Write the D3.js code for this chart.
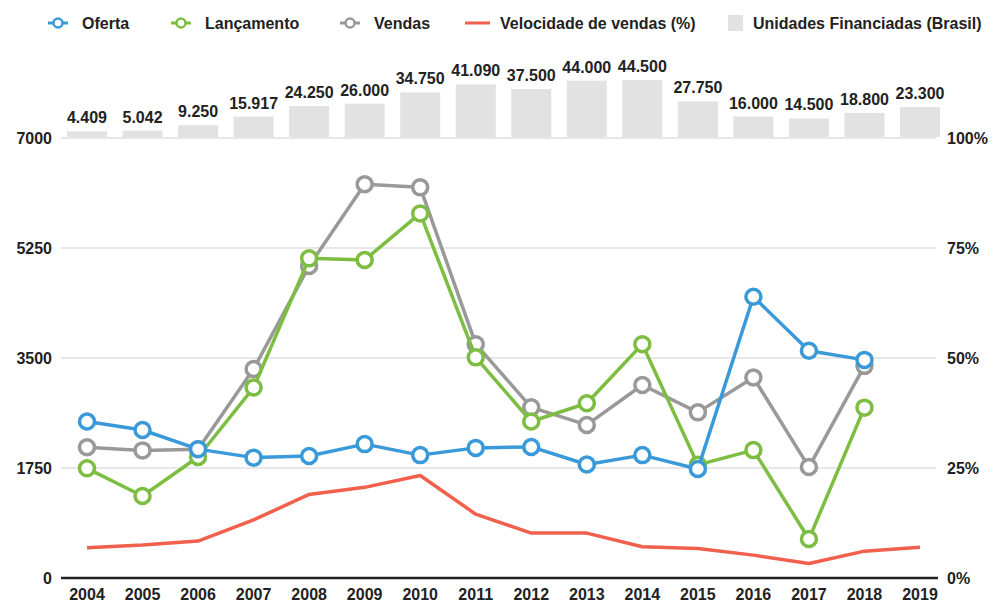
<!DOCTYPE html>
<html lang="pt">
<head>
    <meta charset="UTF-8">
    <title>Mercado imobiliário</title>
    <script src="https://d3js.org/d3.v7.min.js"></script>
    <style>
        body { margin: 0; background: #fff; }
        text { font-family: "Liberation Sans", Arial, sans-serif; font-weight: bold; fill: #222; }
    </style>
</head>
<body>
<script>
const years = ["2004","2005","2006","2007","2008","2009","2010","2011","2012","2013","2014","2015","2016","2017","2018","2019"];
const oferta = [2490, 2355, 2050, 1915, 1940, 2130, 1955, 2070, 2085, 1805, 1955, 1735, 4475, 3615, 3470, null];
const lancamento = [1745, 1305, 1925, 3030, 5085, 5060, 5800, 3510, 2490, 2780, 3720, 1800, 2035, 620, 2710, null];
const vendas = [2080, 2030, 2050, 3325, 4965, 6265, 6215, 3720, 2715, 2435, 3070, 2635, 3190, 1765, 3375, null];
const velocidade = [6.9, 7.5, 8.4, 13.2, 19.0, 20.6, 23.3, 14.5, 10.2, 10.2, 7.1, 6.7, 5.2, 3.3, 6.1, 7.0];
const unidades = [4409, 5042, 9250, 15917, 24250, 26000, 34750, 41090, 37500, 44000, 44500, 27750, 16000, 14500, 18800, 23300];
const leftTicks = [0, 1750, 3500, 5250, 7000];
const rightTicks = [0, 25, 50, 75, 100];

const W = 1000, H = 614;
const svg = d3.select("body").append("svg").attr("width", W).attr("height", H);

const x = d3.scalePoint().domain(years).range([87, 920]);
const y = d3.scaleLinear().domain([0, 7000]).range([578, 138]);
const yr = d3.scaleLinear().domain([0, 100]).range([578, 138]);
const hb = d3.scaleLinear().domain([0, 44500]).range([0, 57]);

// gridlines
svg.selectAll("line.grid")
    .data(leftTicks.filter(d => d > 0))
    .enter().append("line")
    .attr("x1", 61).attr("x2", 936)
    .attr("y1", d => y(d)).attr("y2", d => y(d))
    .attr("stroke", "#cfcfcf").attr("stroke-width", 1.2);

// baseline
svg.append("line")
    .attr("x1", 61).attr("x2", 938)
    .attr("y1", y(0)).attr("y2", y(0))
    .attr("stroke", "#222").attr("stroke-width", 2.5);

// left axis labels
svg.selectAll("text.yl")
    .data(leftTicks)
    .enter().append("text")
    .attr("x", 52).attr("y", d => y(d) + 6)
    .attr("text-anchor", "end")
    .attr("font-size", 16)
    .text(d => d);

// right axis labels
svg.selectAll("text.yr")
    .data(rightTicks)
    .enter().append("text")
    .attr("x", 947).attr("y", d => yr(d) + 6)
    .attr("font-size", 16)
    .text(d => d + "%");

// year labels
svg.selectAll("text.xl")
    .data(years)
    .enter().append("text")
    .attr("x", d => x(d)).attr("y", 600)
    .attr("text-anchor", "middle")
    .attr("font-size", 16)
    .text(d => d);

// financed units bars on top
const barW = 40;
svg.selectAll("rect.bar")
    .data(unidades)
    .enter().append("rect")
    .attr("x", (d, i) => x(years[i]) - barW / 2)
    .attr("y", d => 137 - hb(d))
    .attr("width", barW)
    .attr("height", d => hb(d))
    .attr("fill", "#e2e2e2");

svg.selectAll("text.bl")
    .data(unidades)
    .enter().append("text")
    .attr("x", (d, i) => x(years[i]))
    .attr("y", d => 137 - hb(d) - 8)
    .attr("text-anchor", "middle")
    .attr("font-size", 16)
    .text(d => d3.format(",")(d).replace(/,/g, "."));

// red velocity line
svg.append("path")
    .datum(velocidade)
    .attr("fill", "none")
    .attr("stroke", "#f0604d")
    .attr("stroke-width", 3.5)
    .attr("stroke-linejoin", "round")
    .attr("d", d3.line().x((d, i) => x(years[i])).y(d => yr(d)));

function series(data, color) {
    const line = d3.line()
        .defined(d => d != null)
        .x((d, i) => x(years[i]))
        .y(d => y(d));
    svg.append("path")
        .datum(data)
        .attr("fill", "none")
        .attr("stroke", color)
        .attr("stroke-width", 3.5)
        .attr("stroke-linejoin", "round")
        .attr("d", line);
    svg.append("g").selectAll("circle")
        .data(data.map((v, i) => [years[i], v]).filter(d => d[1] != null))
        .enter().append("circle")
        .attr("cx", d => x(d[0]))
        .attr("cy", d => y(d[1]))
        .attr("r", 7.5)
        .attr("fill", "#fff")
        .attr("stroke", color)
        .attr("stroke-width", 3.5);
}
series(vendas, "#999999");
series(lancamento, "#7cbd42");
series(oferta, "#3a9ad9");

// legend
const lg = svg.append("g");
const legendLine = [
    {label: "Oferta", color: "#3a9ad9", x: 48},
    {label: "Lançamento", color: "#7cbd42", x: 171},
    {label: "Vendas", color: "#999999", x: 340}
];
legendLine.forEach(l => {
    lg.append("line").attr("x1", l.x).attr("x2", l.x + 20).attr("y1", 23).attr("y2", 23)
        .attr("stroke", l.color).attr("stroke-width", 3);
    lg.append("circle").attr("cx", l.x + 10).attr("cy", 23).attr("r", 4.5)
        .attr("fill", "#fff").attr("stroke", l.color).attr("stroke-width", 2.5);
    lg.append("text").attr("x", l.x + 34).attr("y", 29).attr("font-size", 16).text(l.label);
});
lg.append("line").attr("x1", 465).attr("x2", 490).attr("y1", 23).attr("y2", 23)
    .attr("stroke", "#f0604d").attr("stroke-width", 3);
lg.append("text").attr("x", 500).attr("y", 29).attr("font-size", 16).text("Velocidade de vendas (%)");
lg.append("rect").attr("x", 728).attr("y", 15).attr("width", 15).attr("height", 16).attr("fill", "#e2e2e2");
lg.append("text").attr("x", 753).attr("y", 29).attr("font-size", 16).text("Unidades Financiadas (Brasil)");
</script>
</body>
</html>
